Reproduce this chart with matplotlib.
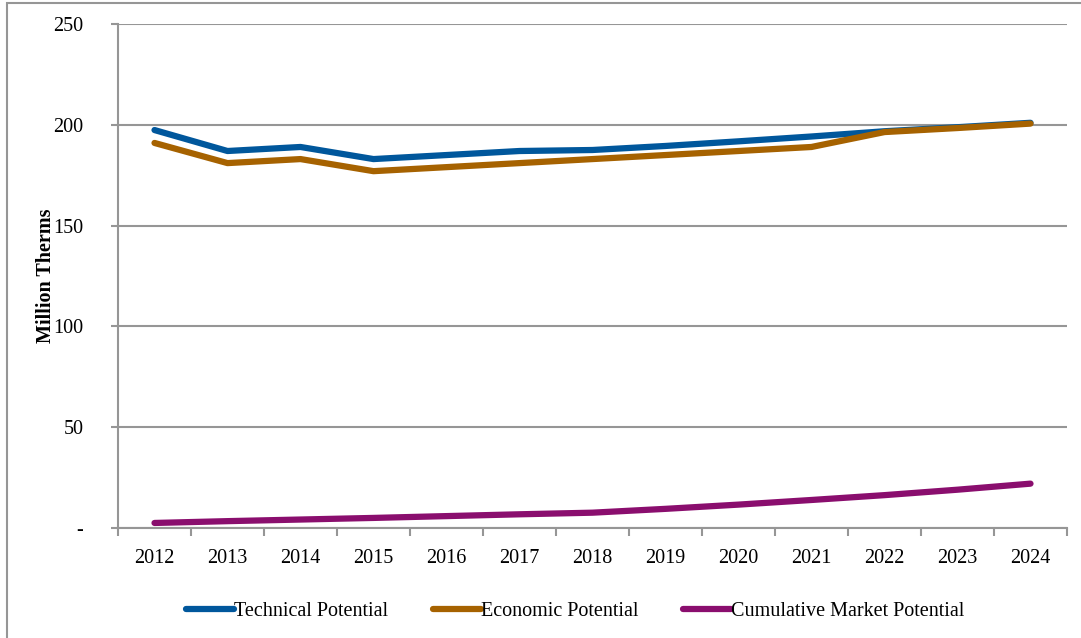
import matplotlib.pyplot as plt
from matplotlib.patches import Rectangle

# Potential savings by year, million therms
years = ['2012', '2013', '2014', '2015', '2016', '2017', '2018',
         '2019', '2020', '2021', '2022', '2023', '2024']
technical = [197.4, 187.0, 189.0, 183.0, 185.0, 187.0, 187.5,
             189.5, 191.8, 194.2, 196.8, 198.8, 201.0]
economic = [191.0, 181.0, 183.0, 177.0, 179.0, 181.0, 183.0,
            185.0, 187.0, 189.0, 196.4, 198.4, 200.6]
market = [2.5, 3.4, 4.2, 5.0, 5.9, 6.8, 7.6,
          9.5, 11.6, 13.9, 16.3, 19.0, 22.0]

y_ticks = [0, 50, 100, 150, 200, 250]
y_labels = ['-', '50', '100', '150', '200', '250']

plt.rcParams['font.family'] = ['Liberation Serif', 'DejaVu Serif']
grey = '#969696'
fs = 14.5

fig = plt.figure(figsize=(10.81, 6.38), dpi=100)
ax = fig.add_axes([118 / 1081, 110 / 638, 949 / 1081, 504 / 638])

# outer chart frame (right and bottom edges fall outside the image)
fig.patches.append(Rectangle((7 / 1081, -0.1), 1.2, 0.1 + 635 / 638, transform=fig.transFigure,
                             fill=False, edgecolor=grey, linewidth=1.5))

x = list(range(len(years)))
ax.plot(x, technical, color='#00579C', lw=4.5, solid_capstyle='round', label='Technical Potential')
ax.plot(x, economic, color='#A66200', lw=4.5, solid_capstyle='round', label='Economic Potential')
ax.plot(x, market, color='#8A0E6E', lw=4.5, solid_capstyle='round', label='Cumulative Market Potential')

ax.set_xlim(-0.5, len(years) - 0.5)
ax.set_ylim(0, 250)
ax.set_yticks(y_ticks)
ax.set_yticklabels(y_labels, fontsize=fs)
ax.set_xticks(x)
ax.set_xticklabels(years, fontsize=fs)
ax.set_xticks([i - 0.5 for i in range(len(years) + 1)], minor=True)
ax.tick_params(axis='x', which='major', length=0, pad=15)
ax.tick_params(axis='x', which='minor', length=6, color=grey, width=1.5)
ax.tick_params(axis='y', length=5, color=grey, width=1.5, pad=20)

ax.yaxis.grid(True, color=grey, linewidth=1.5)
ax.set_axisbelow(True)
for side in ['top', 'right']:
    ax.spines[side].set_visible(False)
for side in ['left', 'bottom']:
    ax.spines[side].set_color(grey)
    ax.spines[side].set_linewidth(1.5)

ax.set_ylabel('Million Therms', fontsize=fs, fontweight='bold', labelpad=-2)

leg = ax.legend(loc='center', bbox_to_anchor=(0.482, -0.165), ncol=3, frameon=False,
                fontsize=fs, handlelength=2.4, handletextpad=0.0, columnspacing=2.2)
for h in leg.get_lines():
    h.set_linewidth(4.5)

fig.savefig('out.png', dpi=100)
